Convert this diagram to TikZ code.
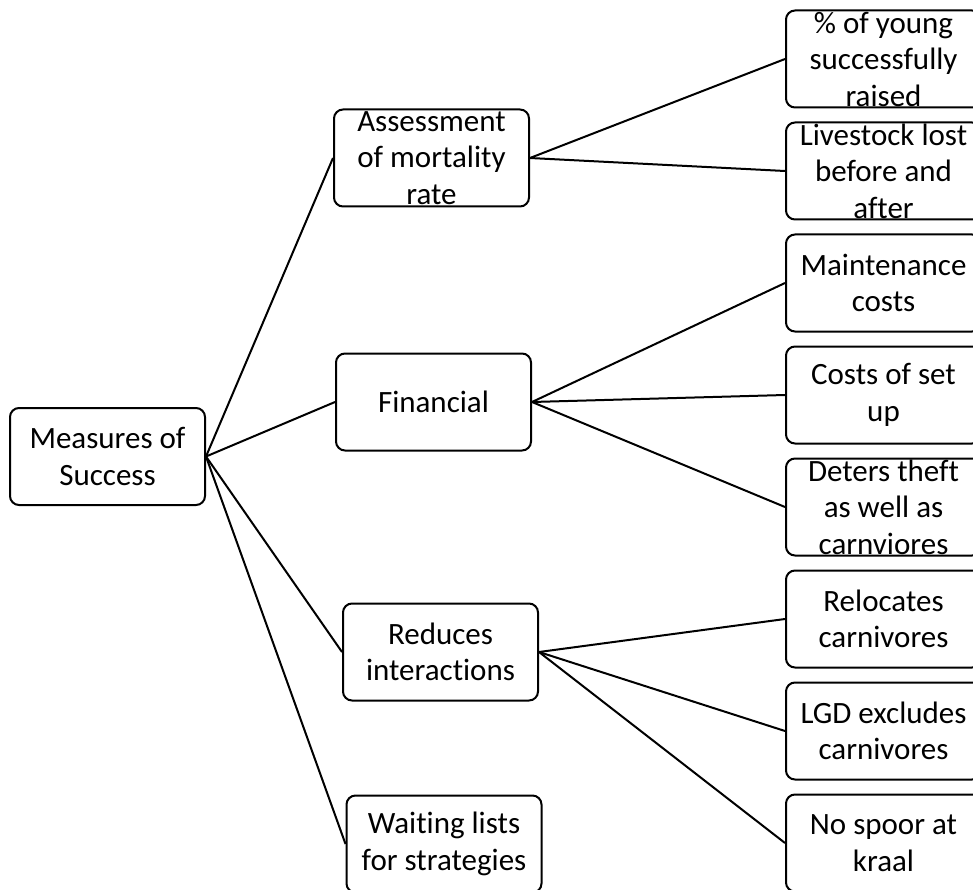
\documentclass[tikz,border=0pt]{standalone}
\usepackage{fontspec}
\setmainfont{Carlito}[RawFeature={-liga;-clig;-calt;-dlig}]
\usepackage{tikz}

\newcommand{\boxtxt}[1]{\raisebox{1.5pt}{\parbox[c][60pt][c]{190pt}{\centering #1}}}

\tikzset{
  item/.style={draw, line width=2pt, rounded corners=9pt, fill=white,
    minimum width=195pt, minimum height=97pt, inner sep=0pt,
    font=\fontsize{31}{36.5}\selectfont},
  link/.style={line width=2pt}
}

\begin{document}
\begin{tikzpicture}[x=1pt, y=-1pt]
\clip (0,0) rectangle (973,890);

\node[item] (root)   at (107.5,456.5) {\boxtxt{Measures of\\Success}};
\node[item] (assess) at (431.5,158)   {\boxtxt{Assessment\\of mortality\\rate}};
\node[item] (fin)    at (433.5,402)   {\boxtxt{Financial}};
\node[item] (red)    at (440.5,652)   {\boxtxt{Reduces\\interactions}};
\node[item] (wait)   at (444,844)     {\boxtxt{Waiting lists\\for strategies}};

\foreach \t [count=\i from 0] in {{\% of young\\successfully\\raised},
    {Livestock lost\\before and\\after}, {Maintenance\\costs},
    {Costs of set\\up}, {Deters theft\\as well as\\carnviores},
    {Relocates\\carnivores}, {LGD excludes\\carnivores},
    {No spoor at\\kraal}} {
  \node[item] (r\i) at (883.5,59+112*\i) {\boxtxt{\t}};
}

\foreach \c in {assess,fin,red,wait} {
  \draw[link] (root.east) -- (\c.west);
}
\foreach \i in {0,1} {\draw[link] (assess.east) -- (r\i.west);}
\foreach \i in {2,3,4} {\draw[link] (fin.east) -- (r\i.west);}
\foreach \i in {5,6,7} {\draw[link] (red.east) -- (r\i.west);}
\end{tikzpicture}
\end{document}
